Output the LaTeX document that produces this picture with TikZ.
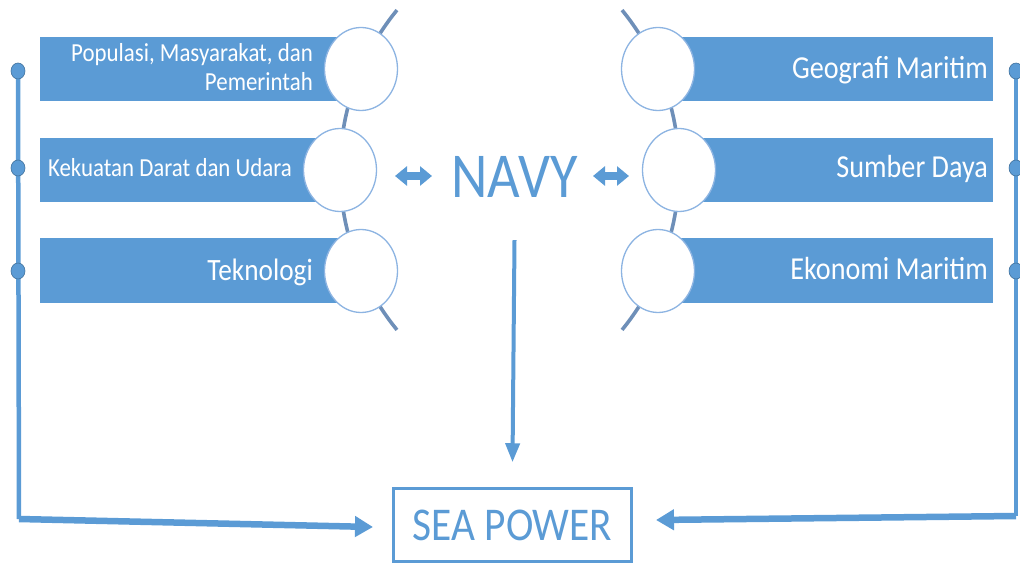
\documentclass[tikz,border=0pt]{standalone}
\usepackage{fontspec}
\setmainfont{Carlito}[FakeStretch=0.88]
\usetikzlibrary{shapes.geometric,arrows.meta}
\definecolor{ob}{HTML}{5B9BD5}
\definecolor{obd}{HTML}{41719C}
\definecolor{arcc}{HTML}{6E8FB8}
\definecolor{circc}{HTML}{8DB4E2}
\begin{document}
\begin{tikzpicture}[x=1pt,y=-1pt,
  bar/.style={fill=ob, minimum height=64pt, inner sep=0pt, anchor=west},
  lbl/.style={text=white, inner sep=0pt, anchor=base east},
  circ/.style={ellipse, draw=circc, line width=1.3pt, fill=white, minimum width=73pt, minimum height=83pt, inner sep=0pt},
  chain/.style={draw=arcc, line width=3.6pt},
  dot/.style={ellipse, fill=ob, draw=obd, line width=0.6pt, minimum width=14pt, minimum height=16pt, inner sep=0pt},
  sline/.style={draw=ob, line width=4.5pt},
  harr/.style={draw=ob, line width=6.5pt, -{Triangle[width=20pt,length=18pt]}},
  varr/.style={draw=ob, line width=4pt, -{Triangle[width=14pt,length=19pt]}},
  dbl/.style={draw=ob, line width=8pt, {Triangle[width=19pt,length=12pt]}-{Triangle[width=19pt,length=12pt]}},
  spbox/.style={draw=ob, line width=3.5pt, minimum width=238pt, minimum height=73pt, inner sep=0pt, text=ob}
]
\useasboundingbox (0,0) rectangle (1020,564);

% bars
\node[bar, minimum width=321pt] (b1) at (40,69.5) {};
\node[bar, minimum width=300pt] (b2) at (40,170.5) {};
\node[bar, minimum width=321pt] (b3) at (40,270.5) {};
\node[bar, minimum width=335pt] (b4) at (658,69.5) {};
\node[bar, minimum width=314pt] (b5) at (679,170.5) {};
\node[bar, minimum width=335pt] (b6) at (658,270.5) {};

% curved chains
\draw[chain, domain=140.8:219.2, samples=50, variable=\t] plot ({593+253*cos(\t)}, {170+253*sin(\t)});
\draw[chain, domain=-39.2:39.2, samples=50, variable=\t] plot ({426+253*cos(\t)}, {170+253*sin(\t)});

% circles
\node[circ] (c1) at (361,69) {};
\node[circ] (c2) at (340,170) {};
\node[circ] (c3) at (361,271) {};
\node[circ] (d1) at (658,69) {};
\node[circ] (d2) at (679,170) {};
\node[circ] (d3) at (658,271) {};

% labels
\node[text=white, inner sep=0pt, anchor=east, align=right, font=\fontsize{26}{29}\selectfont] (t1) at (313,67.4) {Populasi, Masyarakat, dan\\Pemerintah};
\node[lbl, font=\fontsize{26}{29}\selectfont] (t2) at (292,177) {Kekuatan Darat dan Udara};
\node[lbl, font=\fontsize{31}{34}\selectfont] (t3) at (313,280) {Teknologi};
\node[lbl, font=\fontsize{32}{36}\selectfont] (t4) at (988,79) {Geografi Maritim};
\node[lbl, font=\fontsize{32}{36}\selectfont] (t5) at (988,178) {Sumber Daya};
\node[lbl, font=\fontsize{32}{36}\selectfont] (t6) at (988,279) {Ekonomi Maritim};

% NAVY and SEA POWER
\node[text=ob, inner sep=0pt, anchor=base, font=\fontsize{64}{70}\selectfont] (navy) at (514.5,198) {NAVY};
\node[spbox, font=\fontsize{47}{52}\selectfont] (sp) at (512.5,525) {SEA POWER};

% double arrows
\coordinate (da1) at (395,176);
\coordinate (da2) at (432,176);
\coordinate (db1) at (593,176);
\coordinate (db2) at (629,176);
\draw[dbl] (da1) -- (da2);
\draw[dbl] (db1) -- (db2);

% down arrow
\draw[varr] ([yshift=-42pt]navy.south) -- ([yshift=24.5pt]sp.north);

% left side
\coordinate (lc) at (19,519);
\coordinate (la) at (373,527);
\draw[sline] (18,71) -- (lc);
\draw[harr] (lc) -- (la);
\node[dot] (l1) at (18,71) {};
\node[dot] (l2) at (18,168) {};
\node[dot] (l3) at (18,271) {};

% right side
\coordinate (rc) at (1016,516);
\coordinate (ra) at (656,520);
\draw[sline] (1016,71) -- (rc);
\draw[harr] (rc) -- (ra);
\node[dot] (r1) at (1016,71) {};
\node[dot] (r2) at (1016,168) {};
\node[dot] (r3) at (1016,271) {};
\end{tikzpicture}
\end{document}
